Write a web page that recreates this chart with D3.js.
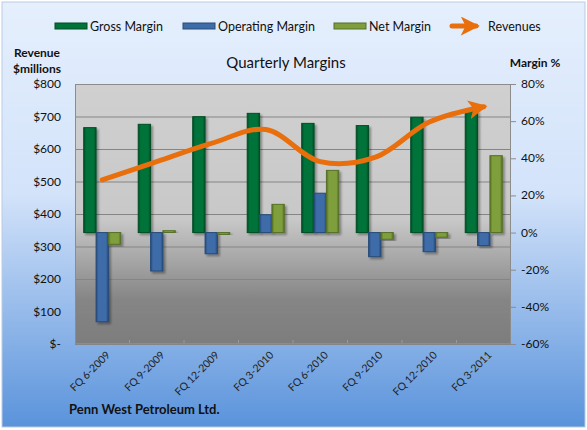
<!DOCTYPE html>
<html>
<head>
<meta charset="utf-8">
<script src="https://cdn.jsdelivr.net/npm/d3@7"></script>
<style>
  body { margin: 0; background: #fff; }
  text { font-family: Lato, "Open Sans", sans-serif; fill: #111; }
</style>
</head>
<body>
<div id="chart"></div>
<script>
var categories = ["FQ 6-2009", "FQ 9-2009", "FQ 12-2009", "FQ 3-2010",
                  "FQ 6-2010", "FQ 9-2010", "FQ 12-2010", "FQ 3-2011"];
var grossMargin = [56.5, 58.3, 62.4, 64.2, 58.8, 57.6, 62.1, 65.5];
var operatingMargin = [-48, -20.7, -11.4, 9.6, 21.2, -13, -10.3, -7];
var netMargin = [-6.3, 1, -1, 15.2, 33.5, -3.6, -2.5, 41.4];
var revenues = [505, 561, 617, 660, 561, 574, 683, 730];

var seriesNames = ["Gross Margin", "Operating Margin", "Net Margin"];
var revenueTicks = [0, 100, 200, 300, 400, 500, 600, 700, 800];
var marginTicks = [-60, -40, -20, 0, 20, 40, 60, 80];

var w = 587, h = 430;
var plot = { left: 75, right: 511, top: 84, bottom: 344 };

var colors = {
  "Gross Margin": { mid: "#00733a", edge: "#004d24" },
  "Operating Margin": { mid: "#3d6ca8", edge: "#284a78" },
  "Net Margin": { mid: "#7f9f3e", edge: "#566f26" }
};
var orange = "#e86f0c";

var svg = d3.select("#chart")
  .append("svg")
  .attr("width", w)
  .attr("height", h);

var defs = svg.append("defs");

// chart background
var bg = defs.append("linearGradient")
  .attr("id", "bg")
  .attr("x1", 0).attr("y1", 0).attr("x2", 0).attr("y2", 1);
bg.append("stop").attr("offset", 0).attr("stop-color", "#e5effd");
bg.append("stop").attr("offset", 0.45).attr("stop-color", "#d3e3fa");
bg.append("stop").attr("offset", 1).attr("stop-color", "#5a93db");

// plot area background
var pg = defs.append("linearGradient")
  .attr("id", "plotbg")
  .attr("x1", 0).attr("y1", 0).attr("x2", 0).attr("y2", 1);
pg.append("stop").attr("offset", 0).attr("stop-color", "#d0d0d0");
pg.append("stop").attr("offset", 0.52).attr("stop-color", "#c8c8c8");
pg.append("stop").attr("offset", 0.83).attr("stop-color", "#858585");
pg.append("stop").attr("offset", 1).attr("stop-color", "#7d7d7d");

seriesNames.forEach(function(name, i) {
  var g = defs.append("linearGradient")
    .attr("id", "bar" + i)
    .attr("x1", 0).attr("y1", 0).attr("x2", 1).attr("y2", 0);
  g.append("stop").attr("offset", 0).attr("stop-color", colors[name].edge);
  g.append("stop").attr("offset", 0.2).attr("stop-color", colors[name].mid);
  g.append("stop").attr("offset", 0.8).attr("stop-color", colors[name].mid);
  g.append("stop").attr("offset", 1).attr("stop-color", colors[name].edge);
});

var shadow = defs.append("filter")
  .attr("id", "shadow")
  .attr("x", "-30%").attr("y", "-10%")
  .attr("width", "170%").attr("height", "130%");
shadow.append("feDropShadow")
  .attr("dx", 2).attr("dy", 2)
  .attr("stdDeviation", 1.2)
  .attr("flood-color", "#000")
  .attr("flood-opacity", 0.35);

defs.append("marker")
  .attr("id", "arrow")
  .attr("viewBox", "0 0 10 10")
  .attr("refX", 8).attr("refY", 5)
  .attr("markerWidth", 3.8).attr("markerHeight", 3.8)
  .attr("orient", "auto")
  .append("path")
  .attr("d", "M0,0 L10,5 L0,10 L2.5,5 z")
  .attr("fill", orange);

svg.append("rect")
  .attr("x", 2).attr("y", 2)
  .attr("width", w - 4).attr("height", h - 5)
  .attr("fill", "url(#bg)")
  .attr("stroke", "#b9cbe3")
  .attr("stroke-width", 1);

// scales
var x = d3.scaleBand()
  .domain(categories)
  .range([plot.left, plot.right])
  .paddingInner(0.32)
  .paddingOuter(0.16);

var xs = d3.scaleBand()
  .domain(seriesNames)
  .range([0, x.bandwidth()]);

var yRev = d3.scaleLinear().domain([0, 800]).range([plot.bottom, plot.top]);
var yPct = d3.scaleLinear().domain([-60, 80]).range([plot.bottom, plot.top]);

svg.append("rect")
  .attr("x", plot.left).attr("y", plot.top)
  .attr("width", plot.right - plot.left)
  .attr("height", plot.bottom - plot.top)
  .attr("fill", "url(#plotbg)");

// gridlines follow the revenue axis
svg.append("g")
  .selectAll("line")
  .data(revenueTicks)
  .enter()
  .append("line")
  .attr("x1", plot.left).attr("x2", plot.right)
  .attr("y1", function(d) { return yRev(d) + 0.5; })
  .attr("y2", function(d) { return yRev(d) + 0.5; })
  .attr("stroke", "#858585")
  .attr("stroke-width", 1);

// small ticks between categories along the bottom
svg.append("g")
  .selectAll("line")
  .data(categories.slice(1))
  .enter()
  .append("line")
  .attr("x1", function(d) { return x(d) - x.step() * x.paddingInner() / 2; })
  .attr("x2", function(d) { return x(d) - x.step() * x.paddingInner() / 2; })
  .attr("y1", plot.bottom - 4).attr("y2", plot.bottom)
  .attr("stroke", "#999")
  .attr("stroke-width", 1);

// bars
var barData = [];
categories.forEach(function(c, i) {
  barData.push({ cat: c, name: seriesNames[0], idx: 0, v: grossMargin[i] });
  barData.push({ cat: c, name: seriesNames[1], idx: 1, v: operatingMargin[i] });
  barData.push({ cat: c, name: seriesNames[2], idx: 2, v: netMargin[i] });
});

svg.append("g")
  .selectAll("rect")
  .data(barData)
  .enter()
  .append("rect")
  .attr("x", function(d) { return x(d.cat) + xs(d.name); })
  .attr("width", xs.bandwidth())
  .attr("y", function(d) { return yPct(Math.max(0, d.v)); })
  .attr("height", function(d) { return Math.abs(yPct(d.v) - yPct(0)); })
  .attr("fill", function(d) { return "url(#bar" + d.idx + ")"; })
  .attr("stroke", function(d) { return colors[d.name].edge; })
  .attr("stroke-width", 1)
  .attr("filter", "url(#shadow)");

svg.append("rect")
  .attr("x", plot.left + 0.5).attr("y", plot.top + 0.5)
  .attr("width", plot.right - plot.left - 1)
  .attr("height", plot.bottom - plot.top - 1)
  .attr("fill", "none")
  .attr("stroke", "#8c8c8c");

// revenue line
var line = d3.line()
  .x(function(d, i) { return x(categories[i]) + x.bandwidth() / 2; })
  .y(function(d) { return yRev(d); })
  .curve(d3.curveCatmullRom.alpha(0.5));

svg.append("path")
  .datum(revenues)
  .attr("d", line)
  .attr("fill", "none")
  .attr("stroke", orange)
  .attr("stroke-width", 5)
  .attr("stroke-linecap", "round")
  .attr("marker-end", "url(#arrow)");

// left axis
svg.append("g")
  .selectAll("text")
  .data(revenueTicks)
  .enter()
  .append("text")
  .attr("x", 61)
  .attr("y", function(d) { return yRev(d) + 4; })
  .attr("text-anchor", "end")
  .style("font-size", "12px")
  .text(function(d) { return d === 0 ? "$-" : "$" + d; });

// right axis
var rightAxis = svg.append("g");
rightAxis.selectAll("line")
  .data(marginTicks)
  .enter()
  .append("line")
  .attr("x1", plot.right).attr("x2", plot.right + 5)
  .attr("y1", function(d) { return yPct(d) + 0.5; })
  .attr("y2", function(d) { return yPct(d) + 0.5; })
  .attr("stroke", "#8c8c8c");
rightAxis.selectAll("text")
  .data(marginTicks)
  .enter()
  .append("text")
  .attr("x", 521)
  .attr("y", function(d) { return yPct(d) + 4; })
  .style("font-size", "12px")
  .text(function(d) { return d + "%"; });

// category labels
svg.append("g")
  .selectAll("text")
  .data(categories)
  .enter()
  .append("text")
  .attr("transform", function(d) {
    return "translate(" + (x(d) + x.bandwidth() / 2 + 6) + "," + (plot.bottom + 9) + ") rotate(-45)";
  })
  .attr("text-anchor", "end")
  .attr("dy", "0.35em")
  .style("font-size", "10.5px")
  .style("fill", "#222")
  .text(function(d) { return d; });

// titles
svg.append("text")
  .attr("x", 286).attr("y", 68)
  .attr("text-anchor", "middle")
  .style("font-size", "15px")
  .text("Quarterly Margins");

svg.append("text")
  .attr("x", 37).attr("y", 57)
  .attr("text-anchor", "middle")
  .style("font-size", "12px").style("font-weight", "bold")
  .text("Revenue");
svg.append("text")
  .attr("x", 37).attr("y", 73)
  .attr("text-anchor", "middle")
  .style("font-size", "12px").style("font-weight", "bold")
  .text("$millions");

svg.append("text")
  .attr("x", 535).attr("y", 67)
  .attr("text-anchor", "middle")
  .style("font-size", "12px").style("font-weight", "bold")
  .text("Margin %");

svg.append("text")
  .attr("x", 69).attr("y", 414)
  .style("font-size", "13px").style("font-weight", "bold")
  .text("Penn West Petroleum Ltd.");

// legend
var legendItems = [
  { name: "Gross Margin", x: 55, type: "bar", idx: 0 },
  { name: "Operating Margin", x: 183, type: "bar", idx: 1 },
  { name: "Net Margin", x: 334, type: "bar", idx: 2 },
  { name: "Revenues", x: 450, type: "line" }
];

var legend = svg.append("g")
  .selectAll("g")
  .data(legendItems)
  .enter()
  .append("g")
  .attr("transform", function(d) { return "translate(" + d.x + ",26)"; });

legend.filter(function(d) { return d.type === "bar"; })
  .append("rect")
  .attr("x", 0).attr("y", -3)
  .attr("width", 32).attr("height", 6)
  .attr("fill", function(d) { return colors[d.name].mid; })
  .attr("stroke", function(d) { return colors[d.name].edge; })
  .attr("stroke-width", 1);

legend.filter(function(d) { return d.type === "line"; })
  .append("line")
  .attr("x1", 2).attr("x2", 26)
  .attr("y1", 0).attr("y2", 0)
  .attr("stroke", orange)
  .attr("stroke-width", 5)
  .attr("stroke-linecap", "round")
  .attr("marker-end", "url(#arrow)");

legend.append("text")
  .attr("x", function(d) { return d.type === "line" ? 38 : 35; })
  .attr("y", 4.5)
  .style("font-size", "12.5px")
  .text(function(d) { return d.name; });
</script>
</body>
</html>
